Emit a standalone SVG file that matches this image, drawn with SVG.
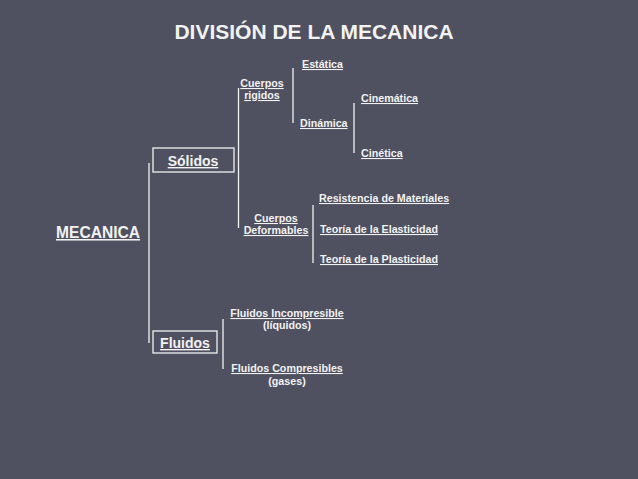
<svg xmlns="http://www.w3.org/2000/svg" width="638" height="479" viewBox="0 0 638 479">
<style>
text{font-family:"Liberation Sans",Arial,sans-serif;font-weight:bold;fill:#f2f2f2;text-decoration:underline}
.t{font-size:21px;text-decoration:none}
.m{font-size:15.6px}
.b{font-size:14px}
.s{font-size:10.7px}
.p{text-decoration:none}
.ln{stroke:#f2f2f2;stroke-width:1.3;fill:none}
</style>
<rect width="638" height="479" fill="#4f5160"/>
<text class="t" x="314" y="39" text-anchor="middle">DIVISIÓN DE LA MECANICA</text>
<g id="connectors" class="ln">
<line x1="149" y1="163" x2="149" y2="343"/>
<line x1="238.5" y1="88" x2="238.5" y2="228"/>
<line x1="293" y1="68" x2="293" y2="123"/>
<line x1="354" y1="103" x2="354" y2="153"/>
<line x1="313" y1="205" x2="313" y2="263"/>
<line x1="223" y1="319" x2="223" y2="369"/>
</g>
<g id="mecanica"><text class="m" x="98" y="238" text-anchor="middle">MECANICA</text></g>
<g id="solidos"><rect class="ln" x="153" y="148" width="81" height="24"/><text class="b" x="193" y="166" text-anchor="middle">Sólidos</text></g>
<g id="fluidos"><rect class="ln" x="153" y="331" width="64" height="22"/><text class="b" x="185" y="348" text-anchor="middle">Fluidos</text></g>
<g id="rigidos"><text class="s" x="262" y="87" text-anchor="middle">Cuerpos </text><text class="s" x="262" y="99" text-anchor="middle">rigidos</text></g>
<g id="estatica"><text class="s" x="302" y="68">Estática</text></g>
<g id="dinamica"><text class="s" x="300" y="127">Dinámica</text></g>
<g id="cinematica"><text class="s" x="361" y="102">Cinemática</text></g>
<g id="cinetica"><text class="s" x="361" y="157">Cinética</text></g>
<g id="deformables"><text class="s" x="276" y="222" text-anchor="middle">Cuerpos </text><text class="s" x="276" y="234" text-anchor="middle">Deformables</text></g>
<g id="resistencia"><text class="s" x="319" y="202">Resistencia de Materiales</text></g>
<g id="elasticidad"><text class="s" x="320" y="233">Teoría de la Elasticidad</text></g>
<g id="plasticidad"><text class="s" x="320" y="263">Teoría de la Plasticidad</text></g>
<g id="incompresible"><text class="s" x="287" y="317" text-anchor="middle">Fluidos Incompresible</text><text class="s p" x="287" y="329" text-anchor="middle">(líquidos)</text></g>
<g id="compresibles"><text class="s" x="287" y="372" text-anchor="middle">Fluidos Compresibles</text><text class="s p" x="287" y="385" text-anchor="middle">(gases)</text></g>
</svg>
